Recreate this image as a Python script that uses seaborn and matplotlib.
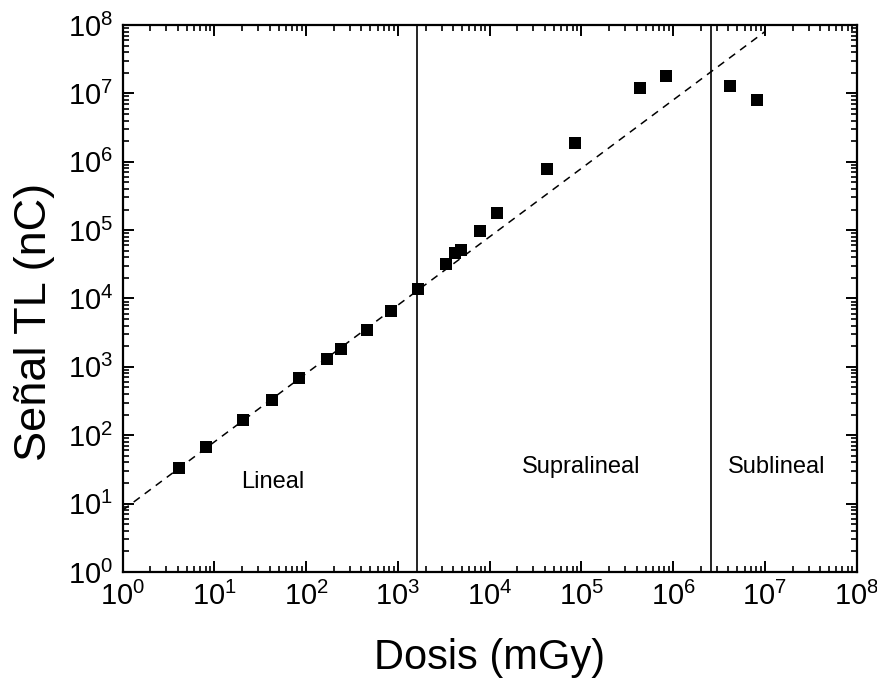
import matplotlib
matplotlib.use('Agg')
import matplotlib.pyplot as plt
import seaborn as sns
import pandas as pd
from matplotlib.ticker import LogLocator, NullFormatter

# Dosis (mGy) vs Señal TL (nC)
dosis = [4.1, 8.2, 20.6, 42, 83.5, 167, 238, 456, 833, 1667, 3311, 4190, 4870,
         7830, 11900, 41800, 84400, 4.31e5, 8.3e5, 4.19e6, 8.26e6]
senal = [33, 67, 167, 330, 686, 1288, 1820, 3480, 6600, 13700, 31500, 45600, 52000,
         95600, 1.75e5, 7.77e5, 1.89e6, 1.2e7, 1.77e7, 1.29e7, 8.04e6]

# linear fit reference line
fit_x = [1, 1e7]
fit_y = [8, 8e7]

# region boundaries and labels
limites = [1600, 2.6e6]
regiones = ['Lineal', 'Supralineal', 'Sublineal']
region_x = [43, 1.0e5, 1.35e7]
region_y = [21, 34, 34]

sns.set_theme(style='ticks')
plt.rcParams['font.family'] = ['Liberation Sans', 'DejaVu Sans']
plt.rcParams['mathtext.default'] = 'regular'
plt.rcParams['text.color'] = 'black'
plt.rcParams['axes.labelcolor'] = 'black'
plt.rcParams['xtick.color'] = 'black'
plt.rcParams['ytick.color'] = 'black'

df = pd.DataFrame({'dosis': dosis, 'senal': senal})
fit = pd.DataFrame({'x': fit_x, 'y': fit_y})

fig = plt.figure(figsize=(8.78, 6.79), dpi=100)
ax = fig.add_axes([0.1397, 0.1576, 0.836, 0.8056])

sns.lineplot(data=fit, x='x', y='y', ax=ax, color='black', lw=1.1,
             linestyle=(0, (5, 4)), zorder=2)
for xv in limites:
    ax.axvline(xv, color='black', lw=1.2, zorder=1)
sns.scatterplot(data=df, x='dosis', y='senal', ax=ax, marker='s', s=64,
                color='black', edgecolor='black', linewidth=0, zorder=3)

ax.set_xscale('log')
ax.set_yscale('log')
ax.set_xlim(1, 1e8)
ax.set_ylim(1, 1e8)

for t, xv, yv in zip(regiones, region_x, region_y):
    ax.text(xv, yv, t, ha='center', va='center', fontsize=17, color='black')

ax.xaxis.set_major_locator(LogLocator(base=10, numticks=20))
ax.yaxis.set_major_locator(LogLocator(base=10, numticks=20))
ax.xaxis.set_minor_locator(LogLocator(base=10, subs=range(2, 10), numticks=100))
ax.yaxis.set_minor_locator(LogLocator(base=10, subs=range(2, 10), numticks=100))
ax.xaxis.set_minor_formatter(NullFormatter())
ax.yaxis.set_minor_formatter(NullFormatter())

ax.tick_params(which='both', direction='in', top=True, right=True)
ax.tick_params(which='major', length=8, width=1.4, labelsize=21, pad=7)
ax.tick_params(which='minor', length=4, width=1.2)
for s in ax.spines.values():
    s.set_linewidth(1.6)
    s.set_color('black')

ax.set_xlabel('Dosis (mGy)', fontsize=30)
ax.set_ylabel('Señal TL (nC)', fontsize=32.5)
ax.xaxis.set_label_coords(0.5, -0.12)
ax.yaxis.set_label_coords(-0.092, 0.457)

fig.savefig('out.png', dpi=100)
